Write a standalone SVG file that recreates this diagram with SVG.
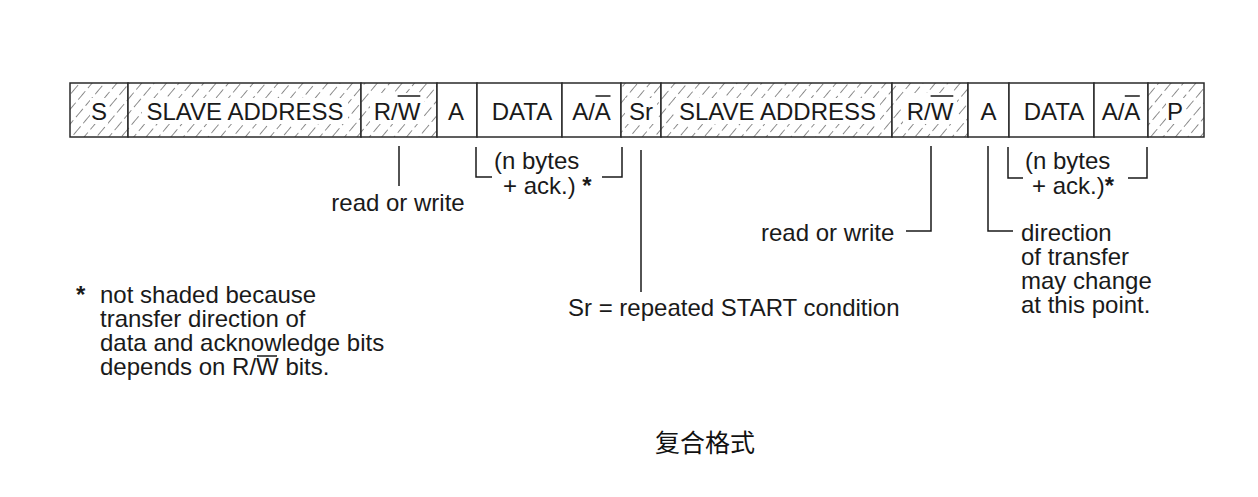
<svg xmlns="http://www.w3.org/2000/svg" width="1258" height="497" viewBox="0 0 1258 497">
<style>
.t{font-family:"Liberation Sans",Arial,sans-serif;font-size:24px;fill:#1a1a1a}
.m{text-anchor:middle}
.b{font-weight:bold}
.cell{stroke:#2a2a2a;stroke-width:1.5}
.hat{fill:url(#hatch)}
.clr{fill:#fff}
.ln{stroke:#1a1a1a;stroke-width:1.5;fill:none}
.cjk{font-family:"Liberation Serif","Noto Sans CJK SC",serif;font-size:25px;fill:#111}
</style>
<defs>
<pattern id="hatch" patternUnits="userSpaceOnUse" width="9.5" height="15" patternTransform="rotate(40)">
<rect width="9.5" height="15" fill="#fff"/>
<line x1="0" y1="0" x2="0" y2="15" stroke="#333" stroke-width="1.1" stroke-dasharray="11 4"/>
</pattern>
</defs>
<rect width="1258" height="497" fill="#fff"/>
<g id="frame">
<g id="cell-S"><rect class="cell hat" x="70" y="83" width="58" height="54"/><rect class="clr" x="90" y="98" width="18" height="26"/><text class="t m" x="99" y="120">S</text></g>
<g id="cell-addr1"><rect class="cell hat" x="128" y="83" width="233" height="54"/><rect class="clr" x="142" y="98" width="206" height="26"/><text class="t m" x="245" y="120">SLAVE ADDRESS</text></g>
<g id="cell-rw1"><rect class="cell hat" x="361" y="83" width="76" height="54"/><rect class="clr" x="370" y="93" width="54" height="31"/><text class="t m" x="397" y="120">R/W</text><line x1="397.6" y1="96" x2="420.3" y2="96" class="ln"/></g>
<g id="cell-A1"><rect class="cell" fill="#fff" x="437" y="83" width="40" height="54"/><text class="t m" x="456" y="120">A</text></g>
<g id="cell-data1"><rect class="cell" fill="#fff" x="477" y="83" width="85" height="54"/><text class="t m" x="522" y="120">DATA</text></g>
<g id="cell-aa1"><rect class="cell" fill="#fff" x="562" y="83" width="59" height="54"/><text class="t m" x="591.5" y="120">A/A</text><line x1="595.5" y1="96" x2="610.5" y2="96" class="ln"/></g>
<g id="cell-Sr"><rect class="cell hat" x="621" y="83" width="40" height="54"/><rect class="clr" x="625" y="98" width="32" height="26"/><text class="t m" x="641" y="120">Sr</text></g>
<g id="cell-addr2"><rect class="cell hat" x="661" y="83" width="231" height="54"/><rect class="clr" x="675" y="98" width="205" height="26"/><text class="t m" x="777.5" y="120">SLAVE ADDRESS</text></g>
<g id="cell-rw2"><rect class="cell hat" x="892" y="83" width="76" height="54"/><rect class="clr" x="903" y="93" width="54" height="31"/><text class="t m" x="930" y="120">R/W</text><line x1="930.6" y1="96" x2="953.3" y2="96" class="ln"/></g>
<g id="cell-A2"><rect class="cell" fill="#fff" x="968" y="83" width="41" height="54"/><text class="t m" x="988.5" y="120">A</text></g>
<g id="cell-data2"><rect class="cell" fill="#fff" x="1009" y="83" width="85" height="54"/><text class="t m" x="1054" y="120">DATA</text></g>
<g id="cell-aa2"><rect class="cell" fill="#fff" x="1094" y="83" width="54" height="54"/><text class="t m" x="1121" y="120">A/A</text><line x1="1124.8" y1="96" x2="1139.8" y2="96" class="ln"/></g>
<g id="cell-P"><rect class="cell hat" x="1148" y="83" width="56" height="54"/><rect class="clr" x="1166" y="98" width="19" height="26"/><text class="t m" x="1175" y="120">P</text></g>
</g>
<g id="connectors">
<line class="ln" x1="399" y1="146" x2="399" y2="186"/>
<polyline class="ln" points="476,147 476,177 492,177"/>
<polyline class="ln" points="602,177 622,177 622,147"/>
<line class="ln" x1="641" y1="150" x2="641" y2="292"/>
<polyline class="ln" points="931,146 931,231 906,231"/>
<polyline class="ln" points="988,146 988,231 1013,231"/>
<polyline class="ln" points="1008,147 1008,178 1023,178"/>
<polyline class="ln" points="1128,178 1147,178 1147,147"/>
</g>
<g id="labels">
<text class="t m" x="398" y="211">read or write</text>
<text class="t" x="494" y="169">(n bytes</text>
<text class="t" x="503" y="194">+ ack.) <tspan class="b">*</tspan></text>
<text class="t" x="568" y="316">Sr = repeated START condition</text>
<text class="t" x="761" y="241">read or write</text>
<text class="t" x="1025" y="169">(n bytes</text>
<text class="t" x="1032" y="194">+ ack.)<tspan class="b">*</tspan></text>
<text class="t" x="1021" y="241">direction</text>
<text class="t" x="1021" y="265">of transfer</text>
<text class="t" x="1021" y="289">may change</text>
<text class="t" x="1021" y="313">at this point.</text>
</g>
<g id="footnote">
<text class="t b" x="76" y="303">*</text>
<text class="t" x="100" y="303">not shaded because</text>
<text class="t" x="100" y="327">transfer direction of</text>
<text class="t" x="100" y="351">data and acknowledge bits</text>
<text class="t" x="100" y="375">depends on R/W bits.</text>
<line class="ln" x1="257" y1="356" x2="277" y2="356"/>
</g>
<text class="cjk" x="655" y="452">复合格式</text>
</svg>
